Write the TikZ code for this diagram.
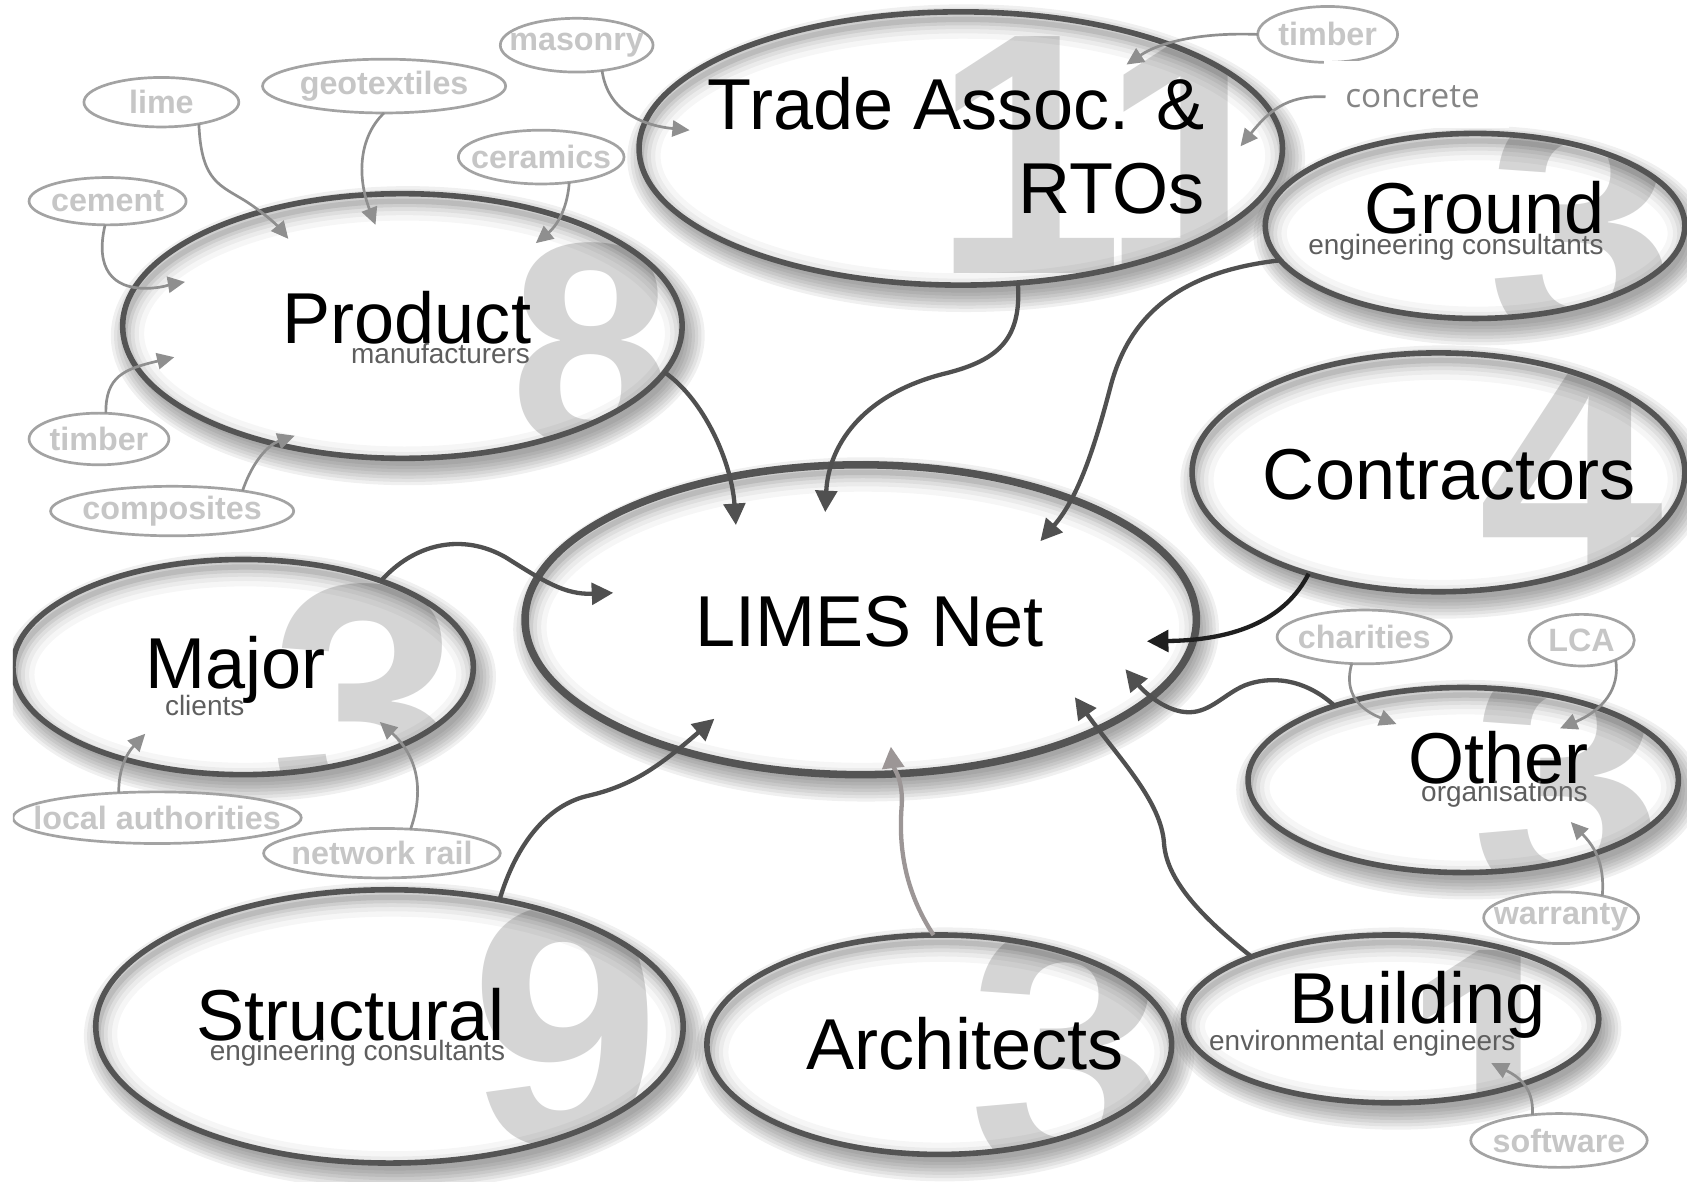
\documentclass[tikz,border=0pt]{standalone}
\usepackage{fontspec}
\setmainfont{Liberation Sans}
\newfontfamily\osans{Open Sans}
\usetikzlibrary{arrows.meta,shapes.geometric}
\definecolor{outl}{HTML}{545454}
\definecolor{limesout}{HTML}{4A4A4A}
\definecolor{digitc}{HTML}{D5D5D5}
\definecolor{satout}{HTML}{A3A3A3}
\definecolor{sattxt}{HTML}{C6C6C6}
\definecolor{subtxt}{HTML}{5E5E5E}
\definecolor{darr}{HTML}{505050}
\definecolor{garr}{HTML}{8F8F8F}
\definecolor{carr}{HTML}{1F1F1F}
\definecolor{aarr}{HTML}{9C9696}
\definecolor{conc}{HTML}{858585}
\newcommand\dfont[1]{\fontsize{#1}{#1}\selectfont\bfseries}
\newcommand\BigEll[7]{%
  \foreach \k in {0,...,6}{%
    \fill[black,opacity=0.058] ({#2+5},{#3+9}) ellipse [x radius={(#4+16-3*\k)*0.5pt}, y radius={(#5+16-3*\k)*0.5pt}];}
  \fill[white] (#2,#3) ellipse [x radius={#4*0.5pt}, y radius={#5*0.5pt}];
  \begin{scope}
    \clip (#2,#3) ellipse [x radius={#4*0.5pt}, y radius={#5*0.5pt}];
    #7
    \foreach \ww/\oo in {36/0.035,26/0.045,18/0.055,11/0.07,5/0.09}{%
      \draw[black,opacity=\oo,line width=\ww*0.5pt] ({#2+2},{#3+7}) ellipse [x radius={#4*0.5pt}, y radius={#5*0.5pt}];}
  \end{scope}
  \node[bigell,line width=#6,minimum width={#4*1pt},minimum height={#5*1pt}] (#1) at (#2,#3) {};
}
\newcommand\Sat[6]{%
  \node[sat,minimum width={#4*1pt},minimum height={#5*1pt}] (#1) at (#2,#3) {};
  \node[sattext] (#1-t) at (#2,#3) {#6};
}
\begin{document}
\begin{tikzpicture}[x=0.5pt,y=-0.5pt,
  bigell/.style={shape=ellipse,draw=outl,inner sep=0pt,outer sep=0pt},
  digit/.style={text=digitc,inner sep=0pt,anchor=north west},
  lbl/.style={inner sep=0pt,font=\fontsize{33.5}{40}\selectfont,text=black},
  sub/.style={inner sep=0pt,font=\fontsize{13}{15}\selectfont,text=subtxt},
  sat/.style={shape=ellipse,draw=satout,line width=1.25pt,fill=white,inner sep=0pt,outer sep=0pt},
  sattext/.style={inner sep=0pt,font=\fontsize{15}{18}\selectfont\bfseries,text=sattxt},
  darrow/.style={draw=darr,line width=2pt,-{Triangle[length=10pt,width=10pt]}},
  garrow/.style={draw=garr,line width=1.25pt,-{Triangle[length=8pt,width=7.5pt]}}]
\useasboundingbox (0,0) rectangle (1568,1098);
\begin{scope}
\clip (12,-10) rectangle (1580,1110);
% main ellipses
\BigEll{limes}{800}{576}{312}{144}{3.5pt}{}
\BigEll{trade}{893}{138}{299}{127}{2.6pt}{\node[digit,font=\dfont{160}] (trade-d) at (866,34) {1\kern-11pt 1};}
\BigEll{prod}{374}{303}{260}{123}{2.6pt}{\node[digit,font=\dfont{135}] (prod-d) at (474,225) {8};}
\BigEll{ground}{1371}{210}{195}{86}{2.6pt}{\node[digit,font=\dfont{158}] (ground-d) at (1382,97) {3};}
\BigEll{contr}{1337}{439}{229}{111}{2.6pt}{\node[digit,font=\dfont{155}] (contr-d) at (1374,330) {4};}
\BigEll{other}{1360}{725}{200}{86}{2.6pt}{\node[digit,font=\dfont{161}] (other-d) at (1367,610) {3};}
\BigEll{build}{1293}{947}{193}{78}{2.6pt}{\node[digit,font=\dfont{150}] (build-d) at (1302,883) {1};}
\BigEll{arch}{873}{971}{216}{102}{2.6pt}{\node[digit,font=\dfont{167}] (arch-d) at (900,858) {3};}
\BigEll{struct}{362}{954}{273}{127}{2.6pt}{\node[digit,font=\dfont{159}] (struct-d) at (437,841) {9};}
\BigEll{major}{226}{620}{214}{100}{2.6pt}{\node[digit,font=\dfont{159}] (major-d) at (251,542) {3};}
% satellites
\Sat{smas}{536}{42}{71}{25}{masonry}
\Sat{slime}{150}{95}{72}{23}{lime}
\Sat{sgeo}{357}{80}{113}{25}{geotextiles}
\Sat{sceram}{503}{146}{77}{25}{ceramics}
\Sat{scem}{100}{187}{73}{22}{cement}
\Sat{stimL}{92}{408}{65}{24}{timber}
\Sat{scomp}{160}{475}{113}{23}{composites}
\Sat{stimR}{1234}{32}{65}{26}{timber}
\Sat{schar}{1268}{592}{81}{25}{charities}
\Sat{slca}{1470}{595}{49}{24}{LCA}
\Sat{swarr}{1451}{853}{72}{24}{warranty}
\Sat{ssoft}{1449}{1060}{82}{25}{software}
\Sat{sloc}{146}{760}{134}{24}{local authorities}
\Sat{srail}{355}{793}{110}{23}{network rail}
% pasted concrete label
\fill[white] (1231,57) rectangle (1403,119);
\node[anchor=west,inner xsep=9pt,inner ysep=0pt,font=\osans\fontsize{15.5}{18}\selectfont,text=conc] (sconc) at (1232,90) {concrete};
% labels
\node[lbl,anchor=base] (limes-l) at (808,601) {LIMES Net};
\node[lbl,anchor=base east] (trade-l1) at (1120,120) {Trade Assoc. \&};
\node[lbl,anchor=base east] (trade-l2) at (1120,198) {RTOs};
\node[lbl,anchor=base east] (ground-l) at (1492,217) {Ground};
\node[sub,anchor=base east] (ground-s) at (1491,237) {engineering consultants};
\node[lbl,anchor=base] (contr-l) at (1347,464) {Contractors};
\node[lbl,anchor=base east] (prod-l) at (494,319) {Product};
\node[sub,anchor=base east] (prod-s) at (493,338) {manufacturers};
\node[lbl,anchor=base west] (major-l) at (135,640) {Major};
\node[sub,anchor=base west] (major-s) at (153,665) {clients};
\node[lbl,anchor=base west] (struct-l) at (182,967) {Structural};
\node[sub,anchor=base east] (struct-s) at (470,986) {engineering consultants};
\node[lbl,anchor=base] (arch-l) at (897,994) {Architects};
\node[lbl,anchor=base west] (build-l) at (1198,951) {Building};
\node[sub,anchor=base east] (build-s) at (1409,976) {environmental engineers};
\node[lbl,anchor=base east] (other-l) at (1477,728) {Other};
\node[sub,anchor=base east] (other-s) at (1476,745) {organisations};
% arrow tip coordinates
\coordinate (tP) at (684,488);
\coordinate (tT) at (767,476);
\coordinate (tG) at (967,503);
\coordinate (tC) at (1066,596);
\coordinate (tO) at (1046,622);
\coordinate (tB) at (999,648);
\coordinate (tA) at (828,694);
\coordinate (tS) at (664,668);
\coordinate (tM) at (570,551);
\coordinate (g1) at (641,121);
\coordinate (g2) at (268,222);
\coordinate (g3) at (349,209);
\coordinate (g4) at (498,226);
\coordinate (g5) at (172,262);
\coordinate (g6) at (162,332);
\coordinate (g7) at (274,405);
\coordinate (g8) at (1047,60);
\coordinate (g9) at (1153,136);
\coordinate (g10) at (1298,673);
\coordinate (g11) at (1450,677);
\coordinate (g12) at (1460,764);
\coordinate (g13) at (1386,988);
\coordinate (g14) at (135,682);
\coordinate (g15) at (353,671);
% dark connectors
\draw[darrow] (prod.-10) .. controls (655,372) and (680,430) .. (tP);
\draw[darrow] (trade.-67) .. controls (950,318) and (925,336) .. (875,348) .. controls (800,368) and (770,415) .. (tT);
\draw[darrow] (ground.190) .. controls (1100,252) and (1050,290) .. (1032,360) .. controls (1015,425) and (1000,465) .. (tG);
\draw[darrow,draw=carr] (contr.218) .. controls (1195,575) and (1150,595) .. (tC);
\draw[darrow] (other.150) .. controls (1212,630) and (1180,628) .. (1157,637) .. controls (1138,645) and (1125,662) .. (1105,662) .. controls (1085,662) and (1065,645) .. (tO);
\draw[darrow] (build.156) .. controls (1120,855) and (1085,820) .. (1082,785) .. controls (1080,745) and (1040,705) .. (tB);
\draw[darrow,draw=aarr] (arch.93) .. controls (842,830) and (835,790) .. (838,750) .. controls (840,725) and (830,712) .. (tA);
\draw[darrow] (struct.49) .. controls (478,790) and (505,750) .. (545,740) .. controls (590,730) and (615,710) .. (tS);
\draw[darrow] (major.32) .. controls (385,505) and (430,495) .. (470,518) .. controls (505,540) and (525,553) .. (tM);
% grey connectors
\draw[garrow] (smas.-45) .. controls (565,105) and (600,117) .. (g1);
\draw[garrow] (slime.-30) .. controls (187,170) and (205,172) .. (230,188) .. controls (248,200) and (258,210) .. (g2);
\draw[garrow] (sgeo.-90) .. controls (333,128) and (332,165) .. (g3);
\draw[garrow] (sceram.-42) .. controls (527,198) and (515,212) .. (g4);
\draw[garrow] (scem.-96) .. controls (88,250) and (105,268) .. (135,268) .. controls (150,268) and (160,264) .. (g5);
\draw[garrow] (stimL.75) .. controls (98,350) and (115,343) .. (g6);
\draw[garrow] (scomp.16) .. controls (235,428) and (250,413) .. (g7);
\draw[garrow] (stimR.180) .. controls (1120,30) and (1080,38) .. (g8);
\draw[garrow] (sconc.west) .. controls (1195,88) and (1178,105) .. (g9);
\draw[garrow] (schar.-115) .. controls (1248,645) and (1265,660) .. (g10);
\draw[garrow] (slca.-30) .. controls (1506,640) and (1490,660) .. (g11);
\draw[garrow] (swarr.28) .. controls (1492,800) and (1480,785) .. (g12);
\draw[garrow] (ssoft.136) .. controls (1426,1010) and (1410,1000) .. (g13);
\draw[garrow] (sloc.147) .. controls (110,715) and (118,700) .. (g14);
\draw[garrow] (srail.40) .. controls (396,730) and (385,700) .. (g15);
\end{scope}
\end{tikzpicture}
\end{document}
